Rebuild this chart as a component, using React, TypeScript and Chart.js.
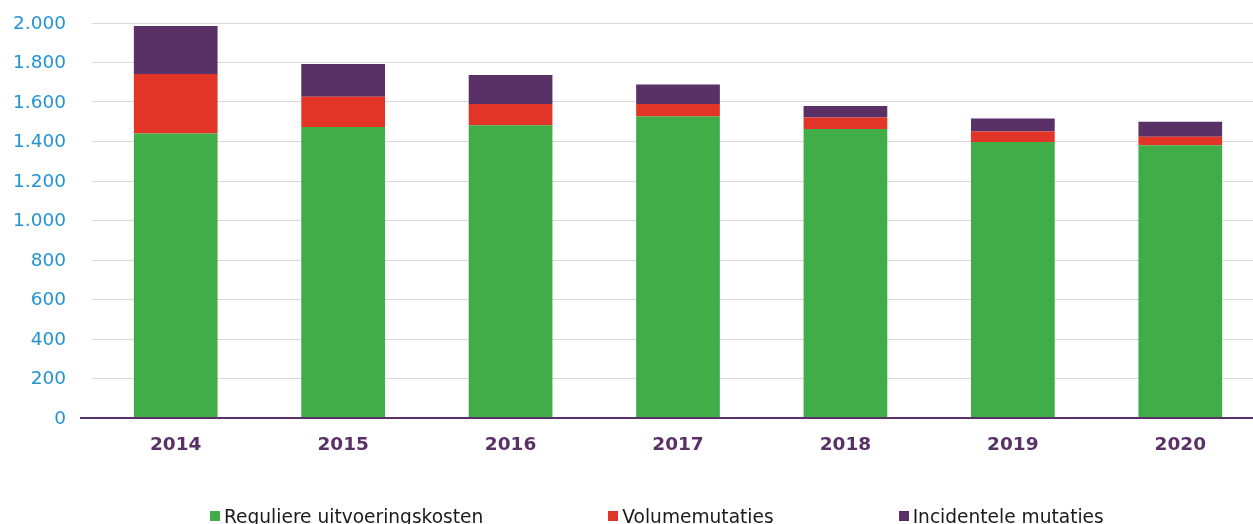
import React, { useEffect, useRef } from "react";
import { Chart, registerables } from "chart.js";

Chart.register(...registerables);

const categories = ["2014", "2015", "2016", "2017", "2018", "2019", "2020"];
const reguliere = [1440, 1473, 1482, 1527, 1463, 1397, 1381];
const volume = [302, 154, 108, 63, 58, 54, 43];
const incidenteel = [243, 165, 147, 98, 59, 66, 76];
const seriesNames = ["Reguliere uitvoeringskosten", "Volumemutaties", "Incidentele mutaties"];
const seriesColors = ["#41ad49", "#e23527", "#5a3167"];

const FONT = "'DejaVu Sans', Verdana, sans-serif";

function fmt(v: number): string {
  return String(v).replace(/\B(?=(\d{3})+(?!\d))/g, ".");
}

export default function App() {
  const ref = useRef<HTMLCanvasElement | null>(null);

  useEffect(() => {
    document.body.style.margin = "0";
    document.body.style.overflow = "hidden";
    if (!ref.current) return;
    const chart = new Chart(ref.current, {
      type: "bar",
      data: {
        labels: categories,
        datasets: [reguliere, volume, incidenteel].map((d, i) => ({
          label: seriesNames[i],
          data: d,
          backgroundColor: seriesColors[i],
          borderWidth: 0,
          barPercentage: 1,
          categoryPercentage: 0.5,
        })),
      },
      options: {
        responsive: false,
        animation: false,
        layout: { padding: { top: 23, left: 0, right: 0, bottom: 0 } },
        plugins: { legend: { display: false }, tooltip: { enabled: false } },
        scales: {
          x: {
            stacked: true,
            z: 1,
            grid: { display: false },
            border: { display: true, color: "#5a3167", width: 2 },
            ticks: {
              color: "#5a3167",
              padding: 8,
              font: { family: FONT, size: 18.5, weight: "bold" },
            },
            afterFit: (s: any) => {
              s.height = 106;
            },
          },
          y: {
            stacked: true,
            min: 0,
            max: 2000,
            border: { display: false },
            grid: {
              color: (c: any) => (c.tick && c.tick.value === 0 ? "rgba(0,0,0,0)" : "#d9d9d9"),
              tickColor: (c: any) => (c.tick && c.tick.value === 0 ? "#5a3167" : "rgba(0,0,0,0)"),
              lineWidth: (c: any) => (c.tick && c.tick.value === 0 ? 2 : 1),
              drawTicks: true,
              tickLength: 12,
            },
            ticks: {
              stepSize: 200,
              color: "#2394d3",
              padding: 14,
              labelOffset: 1,
              font: { family: FONT, size: 18.5 },
              callback: (v: any) => fmt(Number(v)),
            },
            afterFit: (s: any) => {
              s.width = 92;
              s.paddingTop = 12;
              s.paddingBottom = 12;
            },
          },
        },
      },
    });
    return () => chart.destroy();
  }, []);

  return (
    <div style={{ position: "relative", width: 1253, height: 524, overflow: "hidden", background: "#fff" }}>
      <canvas ref={ref} width={1264} height={524} style={{ display: "block", position: "absolute", left: 0, top: 0 }} />
      <div
        style={{
          position: "absolute",
          left: 210,
          top: 508,
          display: "flex",
          gap: 125,
          fontFamily: FONT,
          fontSize: 18.6,
          lineHeight: "18.5px",
          color: "#1a1a1a",
          whiteSpace: "nowrap",
        }}
      >
        {seriesNames.map((n, i) => (
          <div key={n} style={{ display: "flex", alignItems: "flex-start" }}>
            <span style={{ display: "inline-block", width: 10, height: 10, marginTop: 3, marginRight: 4, background: seriesColors[i] }} />
            <span>{n}</span>
          </div>
        ))}
      </div>
    </div>
  );
}
